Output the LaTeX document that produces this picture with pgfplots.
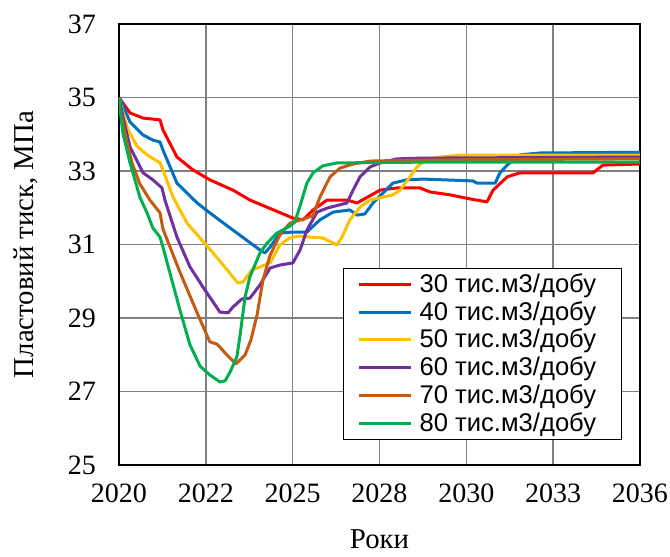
\documentclass[border=0pt]{standalone}
\usepackage{fontspec}
\setmainfont{Liberation Serif}
\newfontfamily\arial{Liberation Sans}
\usepackage{pgfplots}
\pgfplotsset{compat=1.18}
\definecolor{cRed}{HTML}{FF0000}
\definecolor{cBlue}{HTML}{0070C0}
\definecolor{cYel}{HTML}{FFC000}
\definecolor{cPur}{HTML}{7030A0}
\definecolor{cBro}{HTML}{C55A11}
\definecolor{cGre}{HTML}{00B050}
\newcommand{\legtxt}[1]{#1\hspace*{3.5pt}}
\begin{document}
\begin{tikzpicture}
\begin{axis}[
  width=260.5pt, height=220.5pt, scale only axis,
  xmin=2020, xmax=2036, ymin=25, ymax=37,
  xtick={2020,2022.6667,2025.3333,2028,2030.6667,2033.3333,2036},
  xticklabels={2020,2022,2025,2028,2030,2033,2036},
  ytick={25,27,29,31,33,35,37},
  major tick length=0pt,
  grid=major,
  major grid style={line width=0.7pt, color=black!50},
  axis line style={line width=1.2pt, black},
  tick label style={font=\fontsize{14}{16}\selectfont},
  /pgf/number format/assume math mode=true,
  yticklabel style={xshift=-8pt},
  xticklabel style={yshift=-6pt},
  xlabel={Роки}, ylabel={Пластовий тиск, МПа},
  label style={font=\fontsize{14.4}{16}\selectfont},
  xlabel style={at={(axis description cs:0.5,-0.168)}, anchor=center},
  ylabel style={at={(axis description cs:-0.178,0.5)}, anchor=center},
  legend style={at={(axis description cs:0.965,0.447)}, anchor=north east,
    font=\arial\fontsize{12.8}{14}\selectfont, draw=black, line width=0.6pt,
    fill=white, cells={anchor=west}, inner xsep=7pt, inner ysep=0.5pt, row sep=-1pt},
  legend image code/.code={\draw[#1, line width=1.5pt] (0pt,0pt) -- (26pt,0pt); \path (27.5pt,0pt);},
  every axis plot/.append style={line width=1.5pt, line join=round, no markers},
]
\addplot[cRed] coordinates {
(2020,35.0)(2020.34,34.58)(2020.74,34.44)(2021.26,34.39)(2021.35,34.12)(2021.78,33.38)
(2022.27,33.03)(2022.79,32.76)(2023.50,32.48)(2024.02,32.21)(2025.34,31.72)(2025.65,31.67)
(2025.96,31.94)(2026.39,32.21)(2027.00,32.21)(2027.31,32.13)(2028.02,32.48)(2028.54,32.54)
(2029.24,32.54)(2029.55,32.43)(2030.17,32.35)(2030.78,32.24)(2031.30,32.16)(2031.49,32.48)
(2031.92,32.84)(2032.31,32.95)(2034.56,32.95)(2034.86,33.16)(2036,33.19)};
\addlegendentry{\legtxt{30 тис.м3/добу}}
\addplot[cBlue] coordinates {
(2020,35.0)(2020.09,34.85)(2020.34,34.33)(2020.74,33.98)(2021.04,33.84)(2021.26,33.79)
(2021.35,33.57)(2021.78,32.67)(2022.40,32.13)(2022.79,31.86)(2023.41,31.45)(2024.33,30.85)
(2024.48,30.77)(2024.64,30.93)(2024.94,31.31)(2025.34,31.34)(2025.77,31.34)(2026.17,31.67)
(2026.57,31.88)(2027.09,31.94)(2027.31,31.80)(2027.55,31.83)(2027.80,32.13)(2028.11,32.40)
(2028.41,32.67)(2028.84,32.76)(2029.34,32.78)(2030.87,32.73)(2030.99,32.67)(2031.55,32.67)
(2031.70,32.95)(2031.92,33.16)(2032.31,33.44)(2032.93,33.49)(2036,33.51)};
\addlegendentry{\legtxt{40 тис.м3/добу}}
\addplot[cYel] coordinates {
(2020,35.0)(2020.12,34.58)(2020.28,34.12)(2020.55,33.68)(2020.86,33.44)(2021.26,33.22)
(2021.35,33.03)(2021.66,32.29)(2022.09,31.58)(2022.89,30.77)(2023.32,30.31)(2023.65,29.95)
(2023.81,29.98)(2024.08,30.31)(2024.33,30.39)(2024.64,30.50)(2024.94,30.99)(2025.25,31.18)
(2025.56,31.23)(2025.87,31.20)(2026.26,31.18)(2026.69,30.99)(2026.85,31.20)(2027.09,31.67)
(2027.40,32.02)(2027.71,32.21)(2028.11,32.29)(2028.41,32.35)(2028.63,32.48)(2028.94,32.84)
(2029.15,33.11)(2029.40,33.30)(2029.86,33.38)(2030.47,33.43)(2036,33.43)};
\addlegendentry{\legtxt{50 тис.м3/добу}}
\addplot[cPur] coordinates {
(2020,35.0)(2020.12,34.47)(2020.34,33.65)(2020.74,32.95)(2021.04,32.76)(2021.32,32.54)
(2021.41,32.21)(2021.78,31.20)(2022.18,30.39)(2022.58,29.84)(2023.10,29.16)(2023.35,29.14)
(2023.50,29.30)(2023.78,29.52)(2024.02,29.54)(2024.33,29.90)(2024.64,30.36)(2024.94,30.44)
(2025.34,30.50)(2025.56,30.85)(2025.77,31.39)(2026.08,31.88)(2026.39,31.99)(2027.00,32.13)
(2027.19,32.48)(2027.40,32.84)(2027.71,33.11)(2028.02,33.22)(2028.54,33.33)(2029.24,33.35)
(2036,33.38)};
\addlegendentry{\legtxt{60 тис.м3/добу}}
\addplot[cBro] coordinates {
(2020,35.0)(2020.03,34.66)(2020.18,34.03)(2020.40,33.22)(2020.64,32.65)(2020.95,32.21)
(2021.26,31.86)(2021.35,31.42)(2021.87,30.25)(2022.40,29.14)(2022.79,28.35)(2023.01,28.29)
(2023.32,27.99)(2023.59,27.75)(2023.87,27.99)(2024.05,28.40)(2024.24,29.08)(2024.42,30.03)
(2024.64,30.71)(2024.94,31.26)(2025.25,31.58)(2025.65,31.69)(2025.96,31.78)(2026.17,32.29)
(2026.48,32.84)(2026.79,33.08)(2027.19,33.19)(2027.71,33.27)(2029.24,33.30)(2036,33.33)};
\addlegendentry{\legtxt{70 тис.м3/добу}}
\addplot[cGre] coordinates {
(2020,35.0)(2020.03,34.71)(2020.12,34.03)(2020.34,33.22)(2020.64,32.29)(2020.86,31.86)
(2021.04,31.45)(2021.26,31.20)(2021.35,30.93)(2021.87,29.22)(2022.18,28.27)(2022.49,27.69)
(2022.79,27.45)(2023.10,27.26)(2023.26,27.29)(2023.41,27.53)(2023.62,27.94)(2023.72,28.54)
(2023.87,29.57)(2024.02,30.12)(2024.33,30.77)(2024.55,31.04)(2024.85,31.31)(2025.25,31.50)
(2025.40,31.61)(2025.56,32.05)(2025.77,32.67)(2025.96,32.95)(2026.26,33.14)(2026.69,33.22)
(2029.24,33.24)(2036,33.24)};
\addlegendentry{\legtxt{80 тис.м3/добу}}
\coordinate (SW) at (rel axis cs:0,0);
\coordinate (NE) at (rel axis cs:1,1);
\end{axis}
\pgfresetboundingbox
\path[use as bounding box] ([xshift=-59.5pt,yshift=-46pt]SW) rectangle ([xshift=15pt,yshift=12pt]NE);
\end{tikzpicture}
\end{document}
